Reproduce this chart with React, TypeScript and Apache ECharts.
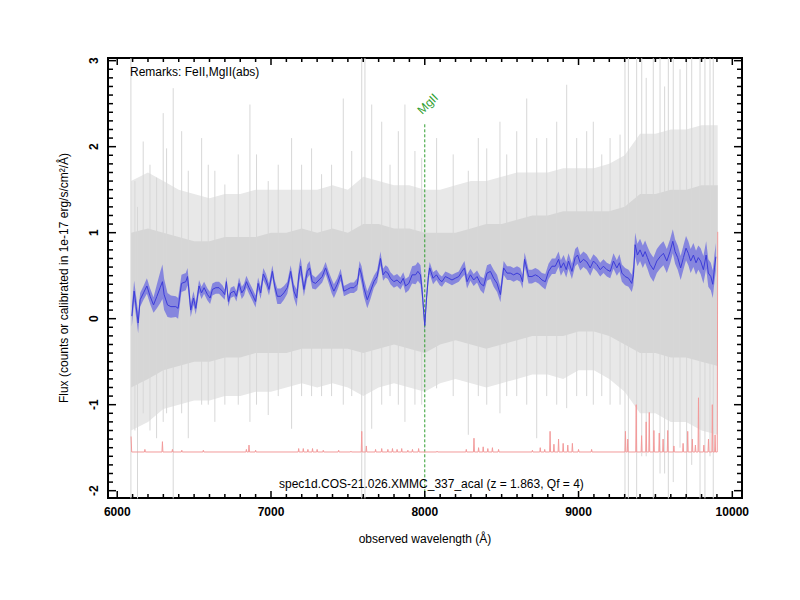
import React, { useEffect, useRef } from "react";
import * as echarts from "echarts";

const FONT = "'Liberation Sans', Arial, Helvetica, sans-serif";

// Axis extents and tick labels
const X_MIN = 5940;
const X_MAX = 10063;
const Y_MIN = -2.085;
const Y_MAX = 3.031;
const X_TICKS = [6000, 7000, 8000, 9000, 10000];
const Y_TICKS = [-2, -1, 0, 1, 2, 3];

// Raw spectrum (grey): envelope of the dense part, per 100 Å
const GRAY_WAVE = [6090, 6200, 6300, 6400, 6500, 6600, 6700, 6800, 6900, 7000, 7100, 7200, 7300, 7400, 7500, 7600, 7700, 7800, 7900, 8000, 8100, 8200, 8300, 8400, 8500, 8600, 8700, 8800, 8900, 9000, 9100, 9200, 9300, 9400, 9500, 9600, 9700, 9800, 9905];
const GRAY_CORE_HI = [1.0, 1.05, 1.0, 0.95, 0.9, 0.9, 0.95, 0.95, 0.95, 1.0, 1.0, 1.05, 1.0, 1.05, 1.0, 1.1, 1.1, 1.05, 1.05, 1.0, 1.0, 1.0, 1.05, 1.1, 1.1, 1.15, 1.2, 1.2, 1.25, 1.25, 1.25, 1.25, 1.3, 1.45, 1.45, 1.5, 1.5, 1.55, 1.55];
const GRAY_CORE_LO = [-0.8, -0.7, -0.6, -0.55, -0.5, -0.5, -0.45, -0.45, -0.4, -0.4, -0.4, -0.35, -0.35, -0.35, -0.35, -0.4, -0.35, -0.3, -0.35, -0.4, -0.3, -0.25, -0.3, -0.35, -0.3, -0.25, -0.2, -0.2, -0.2, -0.15, -0.15, -0.2, -0.3, -0.4, -0.4, -0.45, -0.45, -0.5, -0.55];
const GRAY_OUT_HI = [1.6, 1.7, 1.6, 1.5, 1.45, 1.4, 1.45, 1.45, 1.5, 1.5, 1.5, 1.5, 1.5, 1.55, 1.5, 1.65, 1.6, 1.55, 1.55, 1.5, 1.5, 1.55, 1.6, 1.6, 1.65, 1.7, 1.7, 1.7, 1.75, 1.75, 1.75, 1.8, 1.9, 2.15, 2.15, 2.2, 2.2, 2.25, 2.25];
const GRAY_OUT_LO = [-1.3, -1.2, -1.05, -1.0, -0.95, -0.95, -0.9, -0.9, -0.85, -0.85, -0.8, -0.75, -0.8, -0.75, -0.8, -0.9, -0.8, -0.75, -0.8, -0.85, -0.75, -0.7, -0.75, -0.8, -0.75, -0.7, -0.65, -0.65, -0.7, -0.6, -0.6, -0.7, -0.85, -1.1, -1.1, -1.2, -1.2, -1.3, -1.35];
// Isolated grey spikes: [wavelength, low, high]
const GRAY_SPIKES = [
  [6089, -2.09, 3.03], [6115, -1.3, 1.6], [6132, -2.09, 1.3], [6169, -1.1, 2.06], [6213, -1.3, 1.79],
  [6256, -1.39, 1.64], [6299, -1.2, 2.39], [6321, -1.1, 1.98], [6364, -2.09, 2.68], [6419, -1.1, 2.18],
  [6462, -1.39, 1.72], [6549, -1.0, 2.1], [6592, -1.0, 1.79], [6635, -1.2, 1.72], [6700, -1.0, 1.56],
  [6787, -1.0, 1.91], [6863, -1.2, 2.49], [6906, -1.0, 1.91], [6982, -1.12, 1.6], [7047, -0.9, 1.79],
  [7134, -1.28, 2.1], [7199, -0.9, 1.79], [7264, -0.9, 1.98], [7329, -0.9, 1.68], [7394, -0.9, 1.79],
  [7470, -1.0, 2.56], [7525, -0.9, 1.95], [7590, -2.09, 3.03], [7611, -2.09, 3.03], [7655, -1.28, 2.49],
  [7720, -1.0, 2.29], [7774, -0.9, 1.79], [7828, -1.0, 2.18], [7871, -1.2, 2.49], [7936, -1.0, 1.95],
  [7980, -1.0, 1.87], [8077, -0.81, 2.1], [8185, -0.9, 1.91], [8283, -1.35, 1.72], [8348, -0.9, 2.1],
  [8403, -1.0, 1.98], [8489, -1.1, 2.29], [8533, -0.9, 1.91], [8598, -0.9, 2.18], [8663, -1.0, 2.56],
  [8728, -1.39, 2.1], [8793, -0.9, 2.1], [8858, -1.0, 2.29], [8923, -1.04, 2.72], [8988, -0.9, 2.1],
  [9053, -0.9, 2.18], [9096, -1.0, 2.29], [9151, -0.9, 1.91], [9205, -1.0, 2.1], [9270, -1.0, 2.14],
  [9302, -2.09, 3.03], [9324, -2.09, 3.03], [9378, -2.09, 3.03], [9411, -1.6, 3.03], [9440, -1.6, 2.8],
  [9486, -2.09, 3.03], [9530, -1.8, 3.03], [9560, -1.8, 2.7], [9584, -2.09, 3.03], [9616, -1.9, 3.03],
  [9660, -1.5, 2.9], [9703, -2.09, 3.03], [9736, -1.7, 3.03], [9790, -2.09, 3.03], [9822, -2.09, 3.03],
  [9855, -1.6, 3.03], [9876, -2.09, 3.03],
];

// Smoothed spectrum (blue) with its error
const BLUE_WAVE = [
  6095, 6110, 6123, 6136, 6149, 6171, 6193, 6214, 6236, 6258,
  6279, 6294, 6305, 6327, 6349, 6381, 6396, 6418, 6446, 6457,
  6468, 6478, 6496, 6511, 6532, 6548, 6565, 6587, 6604, 6619,
  6641, 6662, 6684, 6699, 6710, 6723, 6738, 6760, 6775, 6792,
  6810, 6825, 6840, 6857, 6879, 6900, 6916, 6933, 6950, 6968,
  6987, 7009, 7024, 7041, 7063, 7084, 7106, 7128, 7149, 7167,
  7182, 7193, 7214, 7236, 7251, 7268, 7290, 7312, 7333, 7355,
  7377, 7394, 7409, 7431, 7453, 7474, 7496, 7517, 7539, 7561,
  7576, 7589, 7604, 7626, 7647, 7669, 7690, 7712, 7729, 7745,
  7760, 7777, 7799, 7820, 7842, 7860, 7875, 7896, 7918, 7940,
  7955, 7972, 7982, 8000, 8012, 8024, 8032, 8054, 8076, 8097,
  8112, 8134, 8156, 8177, 8199, 8221, 8242, 8258, 8275, 8297,
  8318, 8340, 8362, 8383, 8405, 8427, 8448, 8470, 8492, 8513,
  8535, 8556, 8578, 8600, 8621, 8636, 8649, 8660, 8675, 8697,
  8719, 8740, 8762, 8784, 8805, 8827, 8849, 8870, 8885, 8903,
  8920, 8935, 8957, 8978, 8994, 9011, 9032, 9054, 9076, 9097,
  9119, 9141, 9162, 9184, 9206, 9227, 9249, 9266, 9282, 9303,
  9325, 9346, 9357, 9368, 9383, 9400, 9418, 9433, 9448, 9465,
  9487, 9509, 9530, 9552, 9574, 9595, 9613, 9628, 9645, 9664,
  9682, 9699, 9714, 9729, 9747, 9764, 9779, 9794, 9812, 9830,
  9844, 9860, 9873, 9884, 9893,
];
const BLUE_FLUX = [
  0.03, 0.32, 0.14, -0.05, 0.22, 0.30, 0.38, 0.26, 0.16, 0.26,
  0.36, 0.43, 0.28, 0.16, 0.14, 0.14, 0.12, 0.41, 0.43, 0.49,
  0.30, 0.10, 0.24, 0.12, 0.38, 0.30, 0.36, 0.28, 0.24, 0.34,
  0.36, 0.36, 0.32, 0.28, 0.43, 0.20, 0.30, 0.32, 0.26, 0.41,
  0.30, 0.34, 0.43, 0.36, 0.28, 0.20, 0.41, 0.30, 0.52, 0.45,
  0.34, 0.55, 0.38, 0.26, 0.26, 0.30, 0.36, 0.55, 0.32, 0.24,
  0.51, 0.61, 0.34, 0.55, 0.59, 0.43, 0.41, 0.45, 0.49, 0.59,
  0.47, 0.38, 0.32, 0.40, 0.51, 0.32, 0.34, 0.36, 0.36, 0.40,
  0.59, 0.51, 0.36, 0.22, 0.32, 0.43, 0.49, 0.70, 0.51, 0.55,
  0.53, 0.47, 0.43, 0.45, 0.41, 0.47, 0.38, 0.41, 0.51, 0.51,
  0.55, 0.51, 0.34, -0.08, 0.25, 0.50, 0.59, 0.47, 0.51, 0.45,
  0.43, 0.49, 0.47, 0.45, 0.47, 0.49, 0.55, 0.59, 0.43, 0.51,
  0.45, 0.49, 0.41, 0.38, 0.53, 0.55, 0.47, 0.41, 0.28, 0.59,
  0.53, 0.53, 0.51, 0.53, 0.51, 0.43, 0.69, 0.61, 0.49, 0.49,
  0.51, 0.49, 0.45, 0.43, 0.55, 0.61, 0.61, 0.69, 0.59, 0.65,
  0.57, 0.67, 0.55, 0.71, 0.74, 0.65, 0.69, 0.66, 0.59, 0.67,
  0.63, 0.57, 0.61, 0.57, 0.55, 0.67, 0.59, 0.65, 0.53, 0.49,
  0.47, 0.41, 0.51, 0.86, 0.74, 0.80, 0.72, 0.78, 0.71, 0.63,
  0.57, 0.67, 0.72, 0.76, 0.67, 0.78, 0.90, 0.78, 0.71, 0.59,
  0.71, 0.82, 0.76, 0.67, 0.74, 0.65, 0.71, 0.67, 0.57, 0.74,
  0.53, 0.49, 0.40, 0.59, 0.72,
];
const BLUE_ERR = [
  0.12, 0.12, 0.12, 0.12, 0.08, 0.08, 0.09, 0.09, 0.09, 0.14,
  0.18, 0.2, 0.18, 0.14, 0.13, 0.12, 0.12, 0.1, 0.1, 0.1,
  0.1, 0.08, 0.08, 0.07, 0.07, 0.07, 0.07, 0.07, 0.07, 0.07,
  0.07, 0.07, 0.07, 0.06, 0.06, 0.06, 0.06, 0.06, 0.06, 0.07,
  0.07, 0.07, 0.07, 0.07, 0.07, 0.07, 0.07, 0.07, 0.07, 0.07,
  0.07, 0.07, 0.07, 0.09, 0.09, 0.08, 0.07, 0.07, 0.08, 0.1,
  0.1, 0.1, 0.08, 0.08, 0.08, 0.08, 0.07, 0.07, 0.07, 0.07,
  0.07, 0.08, 0.08, 0.07, 0.07, 0.06, 0.06, 0.06, 0.06, 0.07,
  0.08, 0.1, 0.1, 0.1, 0.09, 0.07, 0.07, 0.08, 0.07, 0.07,
  0.07, 0.07, 0.07, 0.07, 0.07, 0.07, 0.08, 0.08, 0.1, 0.11,
  0.11, 0.11, 0.1, 0.08, 0.08, 0.07, 0.07, 0.07, 0.06, 0.06,
  0.06, 0.06, 0.06, 0.06, 0.06, 0.06, 0.07, 0.08, 0.08, 0.07,
  0.07, 0.07, 0.08, 0.09, 0.09, 0.09, 0.1, 0.1, 0.09, 0.08,
  0.08, 0.08, 0.08, 0.08, 0.08, 0.08, 0.08, 0.08, 0.08, 0.08,
  0.08, 0.08, 0.08, 0.09, 0.09, 0.09, 0.09, 0.09, 0.09, 0.09,
  0.09, 0.09, 0.09, 0.1, 0.1, 0.09, 0.09, 0.09, 0.09, 0.08,
  0.08, 0.08, 0.08, 0.08, 0.08, 0.09, 0.09, 0.1, 0.1, 0.1,
  0.1, 0.1, 0.12, 0.14, 0.13, 0.13, 0.13, 0.13, 0.13, 0.14,
  0.14, 0.14, 0.14, 0.14, 0.14, 0.14, 0.14, 0.14, 0.14, 0.14,
  0.14, 0.14, 0.14, 0.14, 0.14, 0.14, 0.14, 0.15, 0.16, 0.16,
  0.16, 0.16, 0.16, 0.16, 0.16,
];

// Noise spectrum (red)
const RED_BASE = -1.55;
const RED_START = [6090, -1.37];
const RED_END = [9905, 1.01];
const RED_SPIKES = [
  [6180, -1.52], [6294, -1.43], [6359, -1.52], [6420, -1.53], [6560, -1.53], [6840, -1.52], [6857, -1.47],
  [6900, -1.53], [7180, -1.51], [7210, -1.51], [7240, -1.52], [7270, -1.51], [7300, -1.52], [7340, -1.53],
  [7440, -1.53], [7520, -1.54], [7590, -1.31], [7620, -1.48], [7680, -1.52], [7720, -1.51], [7760, -1.52],
  [7790, -1.51], [7820, -1.52], [7850, -1.51], [7890, -1.53], [7920, -1.52], [7960, -1.51], [8080, -1.54],
  [8270, -1.52], [8320, -1.39], [8350, -1.5], [8380, -1.49], [8410, -1.51], [8440, -1.5], [8480, -1.52],
  [8700, -1.53], [8751, -1.5], [8780, -1.52], [8815, -1.31], [8840, -1.46], [8870, -1.4], [8900, -1.45],
  [8930, -1.47], [8960, -1.45], [9000, -1.52], [9085, -1.52], [9305, -1.31], [9320, -1.4], [9375, -1.0],
  [9410, -1.36], [9440, -1.2], [9460, -1.09], [9490, -1.3], [9525, -1.33], [9550, -1.4], [9580, -1.3],
  [9620, -1.48], [9680, -1.45], [9710, -1.31], [9740, -1.4], [9760, -1.47], [9780, -0.92], [9815, -1.47],
  [9845, -1.4], [9870, -1.0], [9888, -1.35],
];

// Line identification
const MG_WAVE = 8000;
const MG_TOP = 2.26;
const MG_NAME = "MgII";

const REMARKS = "Remarks: FeII,MgII(abs)";
const SPEC_NAME = "spec1d.COS-21.026.XMMC_337_acal (z = 1.863, Qf = 4)";
const X_NAME = "observed wavelength (Å)";
const Y_NAME = "Flux (counts or calibrated in 1e-17 erg/s/cm²/Å)";

function stepValues(from: number, to: number, step: number) {
  const out: number[] = [];
  const n = Math.round((to - from) / step);
  for (let i = 0; i <= n; i++) out.push(Math.round((from + i * step) * 1000) / 1000);
  return out;
}

function bandRenderer(wave: number[], lo: number[], hi: number[], fill: string) {
  return (params: any, api: any) => {
    if (params.dataIndex !== 0) return null;
    const pts: number[][] = [];
    for (let i = 0; i < wave.length; i++) pts.push(api.coord([wave[i], hi[i]]));
    for (let i = wave.length - 1; i >= 0; i--) pts.push(api.coord([wave[i], lo[i]]));
    return { type: "polygon", shape: { points: pts }, style: { fill, stroke: null } };
  };
}

function buildOption() {
  const xMinor = stepValues(6000, 10000, 100).filter((v) => X_TICKS.indexOf(v) < 0);
  const yMinor = stepValues(-2, 3, 0.1).filter((v) => Y_TICKS.indexOf(v) < 0);
  // tick items: [axis (0 = x, 1 = y), value, length in px]
  const tickItems: number[][] = [];
  X_TICKS.forEach((v) => tickItems.push([0, v, 7]));
  xMinor.forEach((v) => tickItems.push([0, v, 4]));
  Y_TICKS.forEach((v) => tickItems.push([1, v, 8]));
  yMinor.forEach((v) => tickItems.push([1, v, 5]));

  const blueLo = BLUE_FLUX.map((v, i) => v - BLUE_ERR[i]);
  const blueHi = BLUE_FLUX.map((v, i) => v + BLUE_ERR[i]);
  const blueLine = BLUE_WAVE.map((w, i) => [w, BLUE_FLUX[i]]);

  const redData: number[][] = [RED_START, [RED_START[0] + 4, RED_BASE]];
  for (const [w, p] of RED_SPIKES) {
    redData.push([w - 3, RED_BASE], [w, p], [w + 3, RED_BASE]);
  }
  redData.push([RED_END[0] - 3, RED_BASE], RED_END);

  return {
    animation: false,
    backgroundColor: "#fff",
    grid: {
      left: 108, top: 58, width: 634, height: 440, containLabel: false,
      show: true, borderColor: "#000", borderWidth: 2, backgroundColor: "transparent",
    },
    xAxis: {
      type: "value", min: X_MIN, max: X_MAX, position: "bottom",
      splitLine: { show: false },
      axisLine: { show: true, onZero: false, lineStyle: { color: "#000", width: 2 } },
      axisTick: { show: false },
      axisLabel: {
        show: true, customValues: X_TICKS, formatter: (v: number) => String(v),
        color: "#000", fontFamily: FONT, fontSize: 12, fontWeight: "bold", margin: 8,
      },
      name: X_NAME, nameLocation: "middle", nameGap: 35,
      nameTextStyle: { color: "#000", fontFamily: FONT, fontSize: 12 },
    },
    yAxis: {
      type: "value", min: Y_MIN, max: Y_MAX, position: "left",
      splitLine: { show: false },
      axisLine: { show: true, onZero: false, lineStyle: { color: "#000", width: 2 } },
      axisTick: { show: false },
      axisLabel: {
        show: true, customValues: Y_TICKS, rotate: 90, formatter: (v: number) => String(v),
        color: "#000", fontFamily: FONT, fontSize: 12, fontWeight: "bold", margin: 8,
      },
      name: Y_NAME, nameLocation: "middle", nameGap: 38,
      nameTextStyle: { color: "#000", fontFamily: FONT, fontSize: 12 },
    },
    title: [
      { text: REMARKS, left: 130, top: 66, padding: 0, textStyle: { fontFamily: FONT, fontSize: 12, fontWeight: "normal", color: "#000" } },
      { text: SPEC_NAME, left: 279, top: 478, padding: 0, textStyle: { fontFamily: FONT, fontSize: 12, fontWeight: "normal", color: "#000" } },
    ],
    series: [
      {
        type: "custom", name: "rawOuter", silent: true,
        renderItem: bandRenderer(GRAY_WAVE, GRAY_OUT_LO, GRAY_OUT_HI, "#e8e8e8"),
        data: [[GRAY_WAVE[0], 0]],
      },
      {
        type: "custom", name: "rawCore", silent: true,
        renderItem: bandRenderer(GRAY_WAVE, GRAY_CORE_LO, GRAY_CORE_HI, "#d6d6d6"),
        data: [[GRAY_WAVE[0], 0]],
      },
      {
        type: "custom", name: "rawSpikes", silent: true,
        dimensions: ["wave", "lo", "hi"],
        encode: { x: 0, y: [1, 2] },
        renderItem: (params: any, api: any) => {
          const a = api.coord([api.value(0), api.value(1)]);
          const b = api.coord([api.value(0), api.value(2)]);
          return { type: "line", shape: { x1: a[0], y1: a[1], x2: b[0], y2: b[1] }, style: { stroke: "#d7d7d7", lineWidth: 1 } };
        },
        data: GRAY_SPIKES,
      },
      {
        type: "line", name: "noise", silent: true,
        data: redData, symbol: "none", showSymbol: false,
        lineStyle: { color: "#f29a9a", width: 1 },
      },
      {
        type: "custom", name: "errBand", silent: true,
        renderItem: bandRenderer(BLUE_WAVE, blueLo, blueHi, "rgba(75,75,228,0.58)"),
        data: [[BLUE_WAVE[0], 0]],
      },
      {
        type: "line", name: "smoothed", silent: true,
        data: blueLine, symbol: "none", showSymbol: false,
        lineStyle: { color: "#3c3cd8", width: 1 },
      },
      {
        type: "custom", name: "lineId", silent: true,
        renderItem: (params: any, api: any) => {
          const top = api.coord([api.value(0), api.value(1)]);
          const bot = api.coord([api.value(0), Y_MIN]);
          return {
            type: "group",
            children: [
              { type: "line", shape: { x1: top[0], y1: top[1], x2: bot[0], y2: bot[1] }, style: { stroke: "#2f9e2f", lineWidth: 1, lineDash: [3, 2] } },
              {
                type: "text", x: top[0] - 1, y: top[1] - 8, rotation: Math.PI / 4,
                style: { text: MG_NAME, fill: "#2f9e2f", font: `12px ${FONT}`, align: "left", verticalAlign: "bottom" },
              },
            ],
          };
        },
        data: [[MG_WAVE, MG_TOP]],
      },
      {
        type: "custom", name: "ticks", silent: true, z: 5,
        dimensions: ["axis", "val", "len"],
        encode: { x: 1, y: 2 },
        renderItem: (params: any, api: any) => {
          const kind = api.value(0);
          const v = api.value(1);
          const len = api.value(2);
          const st = { stroke: "#000", lineWidth: 1.5 };
          if (kind === 0) {
            const b = api.coord([v, Y_MIN]);
            const t = api.coord([v, Y_MAX]);
            return {
              type: "group",
              children: [
                { type: "line", shape: { x1: b[0], y1: b[1], x2: b[0], y2: b[1] - len }, style: st },
                { type: "line", shape: { x1: t[0], y1: t[1], x2: t[0], y2: t[1] + len }, style: st },
              ],
            };
          }
          const l = api.coord([X_MIN, v]);
          const r = api.coord([X_MAX, v]);
          return {
            type: "group",
            children: [
              { type: "line", shape: { x1: l[0], y1: l[1], x2: l[0] + len, y2: l[1] }, style: st },
              { type: "line", shape: { x1: r[0], y1: r[1], x2: r[0] - len, y2: r[1] }, style: st },
            ],
          };
        },
        data: tickItems,
      },
    ],
  };
}

export default function App() {
  const ref = useRef<HTMLDivElement>(null);
  useEffect(() => {
    if (!ref.current) return;
    const chart = echarts.init(ref.current, null, { renderer: "svg" });
    chart.setOption(buildOption() as any);
    return () => chart.dispose();
  }, []);
  return (
    <div
      ref={ref}
      style={{ position: "fixed", left: 0, top: 0, width: 800, height: 600, background: "#fff" }}
    />
  );
}
